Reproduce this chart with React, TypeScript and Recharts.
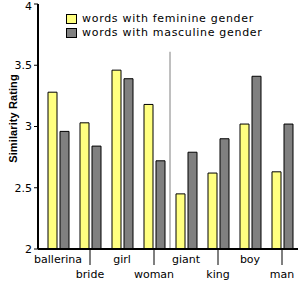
import React from "react";
import { BarChart, Bar, XAxis, YAxis, Legend, ReferenceLine } from "recharts";

const words = ["ballerina", "bride", "girl", "woman", "giant", "king", "boy", "man"];
const feminine = [3.28, 3.03, 3.46, 3.18, 2.45, 2.62, 3.02, 2.63];
const masculine = [2.96, 2.84, 3.39, 2.72, 2.79, 2.9, 3.41, 3.02];
const yTicks = [2, 2.5, 3, 3.5, 4];

const data = words.map((w, i) => ({ word: w, feminine: feminine[i], masculine: masculine[i] }));

const FONT = "'DejaVu Sans', Verdana, sans-serif";
const YELLOW = "#ffff80";
const GRAY = "#808080";

const legendItems = [
    { label: "words with feminine gender", color: YELLOW },
    { label: "words with masculine gender", color: GRAY },
];

const XTick = (props: any) => {
    const { x, y, payload, index } = props;
    const low = index % 2 === 1;
    return (
        <g>
            {low && <line x1={x} y1={y} x2={x} y2={y + 16} stroke="#000" strokeWidth={1} />}
            <text
                x={x}
                y={y + (low ? 29 : 13.5)}
                textAnchor="middle"
                fontSize={11}
                fontFamily={FONT}
                fill="#000"
            >
                {payload.value}
            </text>
        </g>
    );
};

const LegendBox = () => (
    <div style={{ fontFamily: FONT, fontSize: 11, color: "#000", lineHeight: "14px", letterSpacing: 0.7 }}>
        {legendItems.map((it) => (
            <div key={it.label} style={{ display: "flex", alignItems: "center", whiteSpace: "nowrap" }}>
                <span
                    style={{
                        display: "inline-block",
                        width: 9,
                        height: 8,
                        background: it.color,
                        border: "1px solid #000",
                        marginRight: 5,
                    }}
                />
                <span>{it.label}</span>
            </div>
        ))}
    </div>
);

export default function App() {
    return (
        <div style={{ position: "absolute", left: 0, top: 0, width: 300, height: 300, background: "#fff" }}>
            <BarChart
                width={300}
                height={300}
                data={data}
                margin={{ top: 4, right: 2, left: 8, bottom: 0 }}
                barSize={9}
                barGap={3}
            >
                <XAxis
                    dataKey="word"
                    height={51}
                    padding={{ left: 4, right: 0 }}
                    tickLine={false}
                    tickSize={0}
                    tickMargin={0}
                    interval={0}
                    axisLine={{ stroke: "#000", strokeWidth: 2 }}
                    tick={<XTick />}
                />
                <YAxis
                    width={30}
                    domain={[2, 4]}
                    ticks={yTicks}
                    allowDataOverflow
                    tickSize={4}
                    tickMargin={2}
                    axisLine={{ stroke: "#000", strokeWidth: 2 }}
                    tickLine={{ stroke: "#000" }}
                    tick={{ fill: "#000", fontSize: 11, fontFamily: FONT }}
                    label={{
                        value: "Similarity Rating",
                        angle: -90,
                        position: "insideLeft",
                        offset: 5,
                        dy: -8,
                        style: {
                            fontFamily: "'Liberation Sans', Arial, sans-serif",
                            fontSize: 11,
                            fontWeight: "bold",
                            letterSpacing: 0.1,
                            fill: "#000",
                            textAnchor: "middle",
                        },
                    }}
                />
                <Legend
                    layout="horizontal"
                    verticalAlign="middle"
                    align="center"
                    wrapperStyle={{ left: 66, top: 12, width: "auto" }}
                    content={<LegendBox />}
                />
                <ReferenceLine
                    segment={[{ x: "woman", y: 2 }, { x: "woman", y: 3.61 }]}
                    position="end"
                    stroke={GRAY}
                    strokeWidth={1}
                />
                <Bar dataKey="feminine" fill={YELLOW} stroke="#000" strokeWidth={1} isAnimationActive={false} />
                <Bar dataKey="masculine" fill={GRAY} stroke="#000" strokeWidth={1} isAnimationActive={false} />
            </BarChart>
        </div>
    );
}
